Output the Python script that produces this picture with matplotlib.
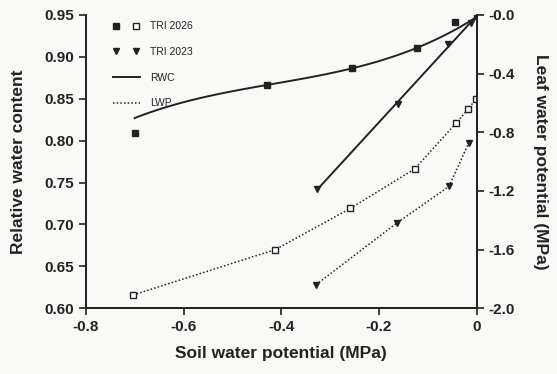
import numpy as np
import matplotlib.pyplot as plt
from matplotlib.lines import Line2D
from matplotlib.legend_handler import HandlerTuple

plt.rcParams["font.family"] = ["Liberation Sans", "DejaVu Sans"]

# soil water potential (MPa) and relative water content, TRI 2026
rwc26_x = [-0.70, -0.43, -0.256, -0.123, -0.045, 0.0]
rwc26_y = [0.809, 0.866, 0.887, 0.911, 0.942, 0.949]
rwc26_fit = [0.827, 0.866, 0.887, 0.910, 0.932, 0.948]
# TRI 2023
rwc23_x = [-0.327, -0.161, -0.059, -0.012]
rwc23_y = [0.742, 0.844, 0.915, 0.940]

# leaf water potential (MPa)
lwp26_x = [-0.703, -0.412, -0.259, -0.127, -0.043, -0.017, -0.001]
lwp26_y = [-1.91, -1.60, -1.32, -1.05, -0.74, -0.64, -0.57]
lwp23_x = [-0.329, -0.164, -0.057, -0.016]
lwp23_y = [-1.84, -1.42, -1.17, -0.87]

INK = "#222222"


def main():
    fig = plt.figure(figsize=(5.57, 3.74), dpi=100, facecolor="#f9f9f7")
    ax = fig.add_axes([0.154, 0.176, 0.702, 0.784])
    ax.set_facecolor("none")
    ax2 = ax.twinx()

    # smooth RWC curves
    c26 = np.polyfit(rwc26_x, rwc26_fit, 3)
    xs = np.linspace(min(rwc26_x), 0, 100)
    ax.plot(xs, np.polyval(c26, xs), color=INK, lw=1.4)
    c23 = np.polyfit(rwc23_x, rwc23_y, 1)
    xs = np.linspace(min(rwc23_x), 0, 50)
    ax.plot(xs, np.polyval(c23, xs), color=INK, lw=1.4)

    ax.plot(rwc26_x, rwc26_y, "s", color=INK, ms=4.5, ls="none")
    ax.plot(rwc23_x, rwc23_y, "v", color=INK, ms=4.5, ls="none")

    dots = (0, (1, 1.4))
    ax2.plot(lwp26_x, lwp26_y, color=INK, lw=1.1, ls=dots, marker="s",
             mfc="white", mec=INK, ms=4, mew=1)
    ax2.plot(lwp23_x, lwp23_y, color=INK, lw=1.1, ls=dots, marker="v",
             mfc=INK, mec=INK, ms=4.5)

    ax.set_xlim(-0.8, 0)
    ax.set_ylim(0.60, 0.95)
    ax2.set_ylim(-2.0, 0.0)
    ax.set_xticks([-0.8, -0.6, -0.4, -0.2, 0])
    ax.set_xticklabels(["-0.8", "-0.6", "-0.4", "-0.2", "0"])
    ax.set_yticks([0.60, 0.65, 0.70, 0.75, 0.80, 0.85, 0.90, 0.95])
    ax.set_yticklabels([f"{v:.2f}" for v in ax.get_yticks()])
    rt = [-2.0, -1.6, -1.2, -0.8, -0.4, 0.0]
    ax2.set_yticks(rt)
    ax2.set_yticklabels(["-2.0", "-1.6", "-1.2", "-0.8", "-0.4", "-0.0"])

    for a in (ax, ax2):
        a.spines["top"].set_visible(False)
        for s in a.spines.values():
            s.set_color(INK)
            s.set_linewidth(1.3)
        a.tick_params(colors=INK, width=1.2, length=5, labelsize=11)
        for lab in a.get_xticklabels() + a.get_yticklabels():
            lab.set_fontweight("bold")

    ax.set_xlabel("Soil water potential (MPa)", fontsize=12.5,
                  fontweight="bold", color=INK, labelpad=9)
    ax.set_ylabel("Relative water content", fontsize=12.5,
                  fontweight="bold", color=INK, labelpad=13)
    ax2.set_ylabel("Leaf water potential (MPa)", fontsize=12.5,
                   fontweight="bold", color=INK, rotation=270, labelpad=24)

    h26 = (Line2D([], [], marker="s", color=INK, ls="none", ms=4),
           Line2D([], [], marker="s", mfc="white", mec=INK, ls="none", ms=4))
    h23 = (Line2D([], [], marker="v", color=INK, ls="none", ms=4),
           Line2D([], [], marker="v", color=INK, ls="none", ms=4))
    hr = Line2D([], [], color=INK, lw=1.4)
    hl = Line2D([], [], color=INK, lw=1.1, ls=dots)
    leg = ax.legend([h26, h23, hr, hl], ["TRI 2026", "TRI 2023", "RWC", "LWP"],
                    handler_map={tuple: HandlerTuple(ndivide=None, pad=1.2)},
                    loc="upper left", bbox_to_anchor=(0.045, 1.01),
                    frameon=False, fontsize=7.5, handlelength=2.6,
                    labelspacing=1.5, handletextpad=1.0)
    for t in leg.get_texts():
        t.set_color(INK)

    fig.savefig("out.png", dpi=100, facecolor=fig.get_facecolor())


if __name__ == "__main__":
    main()
